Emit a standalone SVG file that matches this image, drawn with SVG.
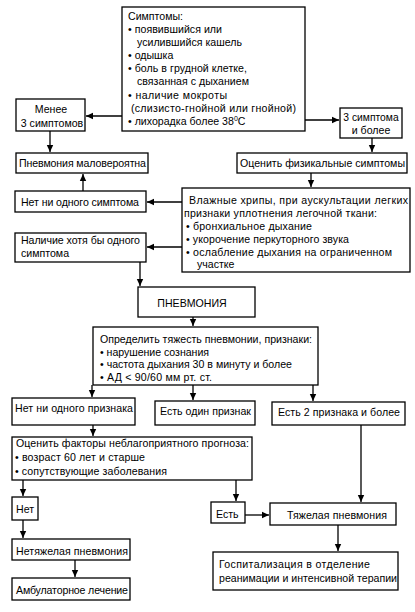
<svg xmlns="http://www.w3.org/2000/svg" width="415" height="612" viewBox="0 0 415 612">
<defs>
<marker id="ah" markerUnits="userSpaceOnUse" markerWidth="8" markerHeight="8" refX="7" refY="4" orient="auto">
<path d="M0,0.8 L7,4 L0,7.2 Z" fill="#000"/>
</marker>
<style>
rect{fill:#fff;stroke:#000;stroke-width:1.3}
text{font-family:"Liberation Sans",Arial,sans-serif;font-size:10.6px;fill:#000}
.c{text-anchor:middle}
#connectors path{stroke:#000;stroke-width:1.3;fill:none;marker-end:url(#ah)}
</style>
</defs>
<rect x="0" y="0" width="415" height="612" style="stroke:none"/>
<g id="connectors">
<path d="M122,116 H86"/>
<path d="M305,120 H339"/>
<path d="M50,131 V152"/>
<path d="M372,138 V152"/>
<path d="M83,191 V174"/>
<path d="M311,173 V187"/>
<path d="M182,202 H147"/>
<path d="M182,247 H147"/>
<path d="M140,262 V286"/>
<path d="M193,317 V326"/>
<path d="M92,385 V397"/>
<path d="M193,385 V400"/>
<path d="M313,385 V401"/>
<path d="M93,425 V436"/>
<path d="M23,480 V496"/>
<path d="M23,520 V538"/>
<path d="M75,560 V577"/>
<path d="M236,480 V501"/>
<path d="M245,515 H269"/>
<path d="M361,425 V502"/>
<path d="M338,525 V551"/>
</g>
<g id="symptoms">
<rect x="122" y="7" width="183" height="124"/>
<text x="128" y="20">Симптомы:</text>
<text x="128" y="33" textLength="94">• появившийся или</text>
<text x="137" y="46">усилившийся кашель</text>
<text x="128" y="59">• одышка</text>
<text x="128" y="72" textLength="119">• боль в грудной клетке,</text>
<text x="137" y="85" textLength="112">связанная с дыханием</text>
<text x="128" y="99" textLength="99">• наличие мокроты</text>
<text x="131" y="112" textLength="165">(слизисто-гнойной или гнойной)</text>
<text x="128" y="125">• лихорадка более 38<tspan font-size="7" dy="-4">0</tspan><tspan dy="4">С</tspan></text>
</g>
<g id="less3">
<rect x="16" y="99" width="69" height="32"/>
<text class="c" x="51" y="113">Менее</text>
<text class="c" x="52" y="127">3 симптомов</text>
</g>
<g id="more3">
<rect x="340" y="108" width="62" height="30"/>
<text class="c" x="371" y="121" style="font-size:10.3px">3 симптома</text>
<text class="c" x="371" y="134">и более</text>
</g>
<g id="unlikely">
<rect x="16" y="153" width="132" height="20"/>
<text x="19" y="167" textLength="127">Пневмония маловероятна</text>
</g>
<g id="physical">
<rect x="237" y="153" width="170" height="20"/>
<text x="240" y="167" textLength="165">Оценить физикальные симптомы</text>
</g>
<g id="nosymptom">
<rect x="15" y="191" width="131" height="21"/>
<text x="21" y="206" textLength="118">Нет ни одного симптома</text>
</g>
<g id="rales">
<rect x="182" y="188" width="228" height="84"/>
<text x="189" y="204" textLength="219">Влажные хрипы, при аускультации легких</text>
<text x="184" y="217" textLength="193">признаки уплотнения легочной ткани:</text>
<text x="186" y="230" textLength="126">• бронхиальное дыхание</text>
<text x="186" y="243" textLength="163">• укорочение перкуторного звука</text>
<text x="186" y="256" textLength="206">• ослабление дыхания на ограниченном</text>
<text x="197" y="268">участке</text>
</g>
<g id="atleastone">
<rect x="15" y="233" width="131" height="29"/>
<text x="21" y="244" textLength="119">Наличие хотя бы одного</text>
<text x="21" y="257">симптома</text>
</g>
<g id="pneumonia">
<rect x="138" y="287" width="117" height="30"/>
<text class="c" x="192" y="307">ПНЕВМОНИЯ</text>
</g>
<g id="severity">
<rect x="93" y="327" width="225" height="58"/>
<text x="100" y="343" textLength="212">Определить тяжесть пневмонии, признаки:</text>
<text x="100" y="356" textLength="109">• нарушение сознания</text>
<text x="100" y="368" textLength="192">• частота дыхания 30 в минуту и более</text>
<text x="100" y="381" textLength="112">• АД &lt; 90/60 мм рт. ст.</text>
</g>
<g id="nosign">
<rect x="12" y="398" width="123" height="27"/>
<text x="15" y="412" textLength="118">Нет ни одного признака</text>
</g>
<g id="onesign">
<rect x="155" y="401" width="100" height="24"/>
<text x="160" y="415" textLength="91">Есть один признак</text>
</g>
<g id="twosigns">
<rect x="272" y="402" width="133" height="23"/>
<text x="278" y="416" textLength="122">Есть 2 признака и более</text>
</g>
<g id="factors">
<rect x="12" y="437" width="240" height="43"/>
<text x="16" y="447" textLength="233">Оценить факторы неблагоприятного прогноза:</text>
<text x="15" y="461" textLength="130">• возраст 60 лет и старше</text>
<text x="15" y="475" textLength="152">• сопутствующие заболевания</text>
</g>
<g id="no">
<rect x="12" y="497" width="26" height="23"/>
<text x="16" y="513">Нет</text>
</g>
<g id="nonsevere">
<rect x="12" y="539" width="118" height="21"/>
<text x="16" y="555" textLength="112">Нетяжелая пневмония</text>
</g>
<g id="outpatient">
<rect x="12" y="578" width="118" height="22"/>
<text x="16" y="594" textLength="112">Амбулаторное лечение</text>
</g>
<g id="yes">
<rect x="211" y="502" width="34" height="21"/>
<text x="216" y="518">Есть</text>
</g>
<g id="severe">
<rect x="270" y="503" width="126" height="22"/>
<text x="287" y="519" textLength="100">Тяжелая пневмония</text>
</g>
<g id="icu">
<rect x="213" y="552" width="185" height="38"/>
<text x="219" y="568" textLength="151">Госпитализация в отделение</text>
<text x="219" y="582" textLength="178">реанимации и интенсивной терапии</text>
</g>
</svg>
